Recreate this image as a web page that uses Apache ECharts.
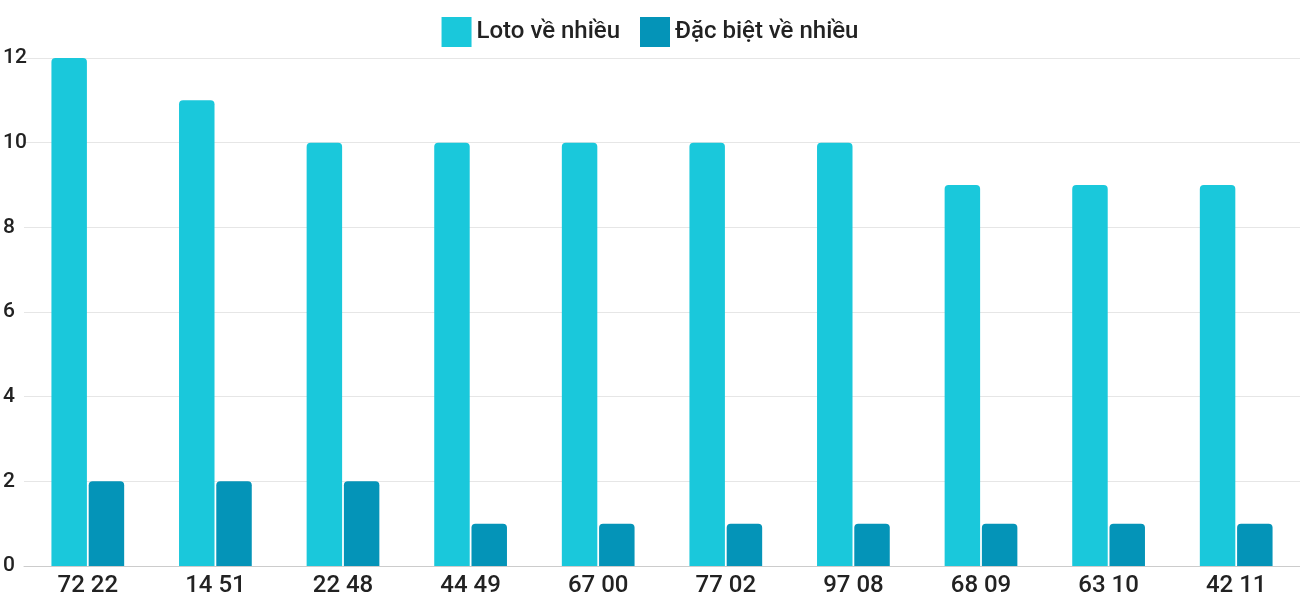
<!DOCTYPE html>
<html>
<head>
<meta charset="utf-8">
<script src="https://cdn.jsdelivr.net/npm/echarts@6/dist/echarts.min.js"></script>
<style>html,body{margin:0;padding:0;background:#fff}#chart{width:1300px;height:600px}</style>
</head>
<body>
<div id="chart"></div>
<script>
// danh sách cặp số
var categories = ['72 22', '14 51', '22 48', '44 49', '67 00', '77 02', '97 08', '68 09', '63 10', '42 11'];
var lotoValues = [12, 11, 10, 10, 10, 10, 10, 9, 9, 9];
var dacBietValues = [2, 2, 2, 1, 1, 1, 1, 1, 1, 1];
var yTicks = { min: 0, max: 12, interval: 2 };

var chart = echarts.init(document.getElementById('chart'));

var option = {
  backgroundColor: '#FFFFFF',
  textStyle: { fontFamily: 'Roboto' },
  legend: {
    top: 12,
    left: 'center',
    itemWidth: 30,
    itemHeight: 30,
    itemGap: 20,
    icon: 'rect',
    textStyle: { fontSize: 24, fontWeight: 500, color: '#222', fontFamily: 'Roboto' },
    data: ['Loto về nhiều', 'Đặc biệt về nhiều']
  },
  grid: { left: 21, top: 58, right: -28, bottom: 34, containLabel: false },
  xAxis: {
    type: 'category',
    data: categories,
    axisTick: { show: false },
    axisLine: { lineStyle: { color: '#ccc' } },
    axisLabel: { fontSize: 24, fontWeight: 500, color: '#222', margin: 8 }
  },
  yAxis: {
    type: 'value',
    min: yTicks.min,
    max: yTicks.max,
    interval: yTicks.interval,
    axisLabel: { fontSize: 21, fontWeight: 500, color: '#222', align: 'left', margin: 21 },
    splitLine: { lineStyle: { color: '#e6e6e6' } }
  },
  series: [
    {
      name: 'Loto về nhiều',
      type: 'bar',
      data: lotoValues,
      barGap: '5%',
      barCategoryGap: '43%',
      itemStyle: { color: '#1ac8db', borderRadius: [4, 4, 0, 0] }
    },
    {
      name: 'Đặc biệt về nhiều',
      type: 'bar',
      data: dacBietValues,
      itemStyle: { color: '#0494b8', borderRadius: [4, 4, 0, 0] }
    }
  ]
};
chart.setOption(option);
</script>
</body>
</html>
